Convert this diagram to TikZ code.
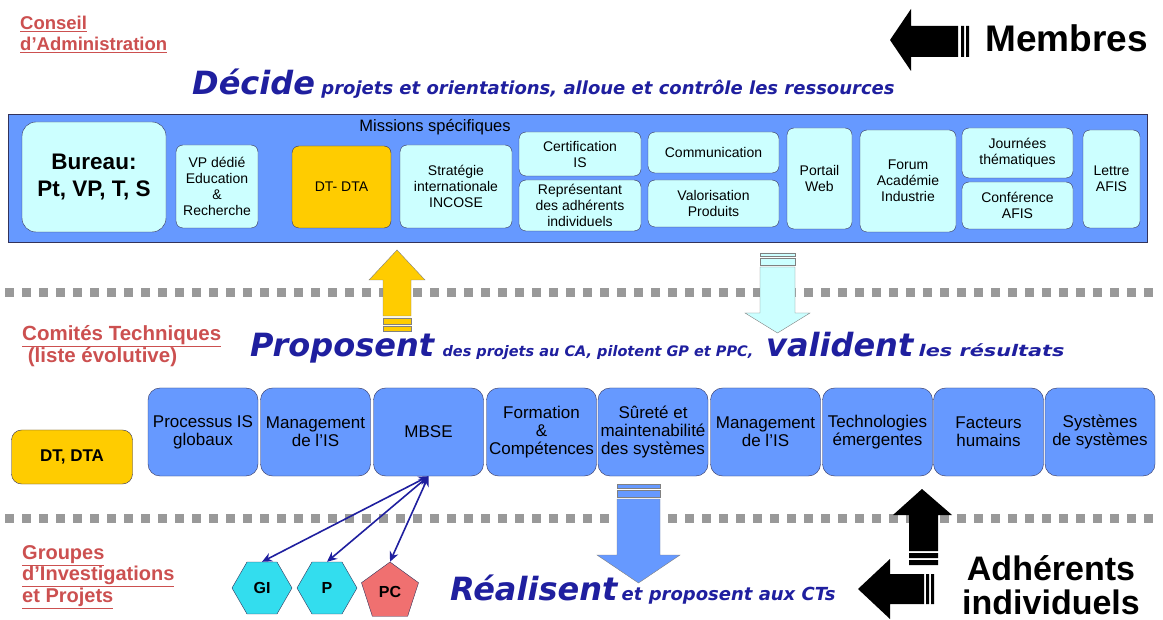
\documentclass[tikz,border=0pt]{standalone}
\usepackage{fontspec}
\setmainfont{Liberation Sans}
\newfontfamily\verdana{DejaVu Sans}
\newfontfamily\verdanalarge[FakeStretch=1.3]{DejaVu Sans}
\usetikzlibrary{shapes.geometric, positioning, arrows.meta}
\usepackage{xcolor}
\definecolor{AfisBleu}{HTML}{6699FF}
\definecolor{AfisCiel}{HTML}{CCFFFF}
\definecolor{AfisOr}{HTML}{FFCC00}
\definecolor{AfisEncre}{HTML}{1F1F9F}
\definecolor{AfisRouge}{HTML}{CC5050}
\definecolor{AfisTrait}{HTML}{33335A}
\definecolor{AfisGris}{HTML}{999999}
\definecolor{AfisCyan}{HTML}{33DDEE}
\definecolor{AfisRose}{HTML}{F07070}

\tikzset{
  mission/.style={draw=AfisTrait, fill=AfisCiel, rounded corners=7pt, align=center, inner sep=0pt, font=\fontsize{14}{16}\selectfont},
  comite/.style={draw=AfisTrait, fill=AfisBleu, rounded corners=12pt, align=center, inner sep=0pt, minimum width=110pt, minimum height=88pt, font=\fontsize{17}{18}\selectfont},
  groupe/.style={regular polygon, draw=AfisTrait, inner sep=0pt, font=\bfseries\fontsize{16}{18}\selectfont},
  titre/.style={text=AfisRouge, font=\bfseries\fontsize{18.5}{21}\selectfont, align=left, anchor=north west, inner sep=0pt},
  verbe/.style={text=AfisEncre, font=\verdana\bfseries\itshape\fontsize{32}{36}\selectfont, anchor=base west, inner sep=0pt},
  phrase/.style={text=AfisEncre, font=\verdana\bfseries\itshape\fontsize{15}{18}\selectfont, anchor=base west, inner sep=0pt},
  pointille/.style={AfisGris, line width=9pt, dash pattern=on 9pt off 8pt},
  lien/.style={AfisEncre, line width=1.6pt, {Stealth[length=10pt,width=9pt]}-{Stealth[length=10pt,width=9pt]}}
}

\begin{document}
\begin{tikzpicture}[x=1pt, y=-1pt]
\useasboundingbox[fill=white] (0,0) rectangle (1163,620);

% Conseil d'Administration
\node[titre] (ca) at (20,16) {\underline{Conseil}\\\underline{d’Administration}};

% Membres
\node[anchor=base west, inner sep=0pt, font=\bfseries\fontsize{37}{40}\selectfont] (membres) at (985,52) {Membres};
\fill[black] (890,40) -- (911,9) -- (911,26) -- (958,26) -- (958,57) -- (911,57) -- (911,71) -- cycle;
\fill[black] (961,26) rectangle (964,57) (966,26) rectangle (969,57);

% Decide
\node[verbe] (decide) at (192,95) {Décide};
\node[phrase, font=\verdana\bfseries\itshape\fontsize{18}{20}\selectfont] (decidetxt) at ([xshift=6pt]decide.base east) {projets et orientations, alloue et contrôle les ressources};

% Bande du CA
\node[draw=AfisTrait, line width=1pt, fill=AfisBleu, minimum width=1139pt, minimum height=128pt, inner sep=0pt] (bande) at (577.5,179) {};
\node[inner sep=0pt, font=\fontsize{16.5}{18}\selectfont] (missions) at (435,127) {Missions spécifiques};

\node[mission, minimum width=144pt, minimum height=110pt, rounded corners=14pt, font=\bfseries\fontsize{22.5}{27}\selectfont] (bureau) at (94,177) {Bureau:\\Pt, VP, T, S};
\node[mission, minimum width=82pt, minimum height=83pt] (vp) at (217,186.5) {VP dédié\\Education\\\&\\Recherche};
\node[mission, fill=AfisOr, minimum width=99pt, minimum height=82pt] (dtdta) at (341.5,187) {DT- DTA};
\node[mission, minimum width=112pt, minimum height=83pt] (strat) at (456,186.5) {Stratégie\\internationale\\INCOSE};
\node[mission, minimum width=122pt, minimum height=44pt] (certif) at (580,154) {Certification\\IS};
\node[mission, minimum width=122pt, minimum height=51pt] (repres) at (580,205.5) {Représentant\\des adhérents\\individuels};
\node[mission, minimum width=131pt, minimum height=41pt] (comm) at (713.5,152.5) {Communication};
\node[mission, minimum width=131pt, minimum height=47pt] (valo) at (713.5,203.5) {Valorisation\\Produits};
\node[mission, minimum width=65pt, minimum height=101pt] (portail) at (819.5,178.5) {Portail\\Web};
\node[mission, minimum width=96pt, minimum height=102pt] (forum) at (908,181) {Forum\\Académie\\Industrie};
\node[mission, minimum width=111pt, minimum height=50pt] (journees) at (1017.5,153) {Journées\\thématiques};
\node[mission, minimum width=111pt, minimum height=47pt] (confer) at (1017.5,205.5) {Conférence\\AFIS};
\node[mission, minimum width=57pt, minimum height=98pt] (lettre) at (1111.5,179) {Lettre\\AFIS};

% Separations
\draw[pointille] (5,293) -- (1160,293);
\draw[pointille] (5,518) -- (1160,518);

% Fleches entre CA et CT
\filldraw[fill=AfisOr, draw=gray] (397,250) -- (425,280) -- (411,280) -- (411,316) -- (383,316) -- (383,280) -- (369,280) -- cycle;
\filldraw[fill=AfisOr, draw=gray] (383,318) rectangle (411,324) (383,326) rectangle (411,331);
\filldraw[fill=AfisCiel, draw=gray] (760,253) rectangle (795,256) (760,258) rectangle (795,265);
\filldraw[fill=AfisCiel, draw=gray] (760,267) -- (795,267) -- (795,313) -- (810,313) -- (777.5,333) -- (745,313) -- (760,313) -- cycle;

% Comites Techniques
\node[titre, font=\bfseries\fontsize{20.5}{22}\selectfont] (ct) at (22,325) {\underline{Comités Techniques}\\\ (liste évolutive)};
\node[verbe] (proposent) at (250,357) {Proposent};
\node[phrase, font=\verdana\bfseries\itshape\fontsize{14.5}{17}\selectfont] (proptxt) at ([xshift=8pt]proposent.base east) {des projets au CA, pilotent GP et PPC,};
\node[verbe] (valident) at (766,357) {valident};
\node[phrase, font=\verdanalarge\bfseries\itshape\fontsize{16}{18}\selectfont] (validtxt) at ([xshift=5pt]valident.base east) {les résultats};

\node[draw=AfisTrait, fill=AfisOr, rounded corners=10pt, minimum width=121pt, minimum height=54pt, inner sep=0pt, font=\bfseries\fontsize{17}{18}\selectfont] (dt) at (72,457) {DT, DTA};
\node[comite] (processus) at (203,432) {Processus IS\\globaux};
\node[comite] (mgmtis) at (315.5,432) {Management\\de l’IS};
\node[comite] (mbse) at (428.5,432) {MBSE};
\node[comite] (formation) at (541.5,432) {Formation\\\&\\Compétences};
\node[comite] (surete) at (653,432) {Sûreté et\\maintenabilité\\des systèmes};
\node[comite] (mgmtis2) at (765.5,432) {Management\\de l’IS};
\node[comite] (techno) at (877.5,432) {Technologies\\émergentes};
\node[comite] (facteurs) at (988.5,432) {Facteurs\\humains};
\node[comite] (sds) at (1100,432) {Systèmes\\de systèmes};

% Groupes
\node[titre, font=\bfseries\fontsize{20}{20}\selectfont] (gip) at (22,545) {\underline{Groupes}\\\underline{d’Investigations}\\\underline{et Projets}};
\node[groupe, regular polygon sides=6, fill=AfisCyan, minimum size=60pt] (gi) at (262,588) {GI};
\node[groupe, regular polygon sides=6, fill=AfisCyan, minimum size=60pt] (p) at (327,588) {P};
\node[groupe, regular polygon sides=5, fill=AfisRose, minimum size=60pt] (pc) at (390,592) {PC};
\draw[lien] (mbse.south) -- (gi.north);
\draw[lien] (mbse.south) -- (p.north);
\draw[lien] (mbse.south) -- (pc.north);

% Realisent
\filldraw[fill=AfisBleu, draw=gray] (617,484) rectangle (660,488) (617,490) rectangle (660,497);
\filldraw[fill=AfisBleu, draw=gray] (617,499) -- (660,499) -- (660,555) -- (680,555) -- (638.5,583) -- (597,555) -- (617,555) -- cycle;
\node[verbe] (realisent) at (450,600) {Réalisent};
\node[phrase, font=\verdana\bfseries\itshape\fontsize{18}{20}\selectfont] (realtxt) at ([xshift=4pt]realisent.base east) {et proposent aux CTs};

% Adherents individuels
\fill[black] (922,489) -- (952,515) -- (938,515) -- (938,551) -- (909,551) -- (909,515) -- (893,515) -- cycle;
\fill[black] (909,553) rectangle (938,558) (909,560) rectangle (938,565);
\fill[black] (858,589) -- (890,559) -- (890,574) -- (924,574) -- (924,604) -- (890,604) -- (890,619) -- cycle;
\fill[black] (926,574) rectangle (929,604) (931,574) rectangle (934,604);
\node[anchor=south, align=center, inner sep=0pt, font=\bfseries\fontsize{34}{34}\selectfont] (adherents) at (1051,615) {Adhérents\\individuels};
\end{tikzpicture}
\end{document}
